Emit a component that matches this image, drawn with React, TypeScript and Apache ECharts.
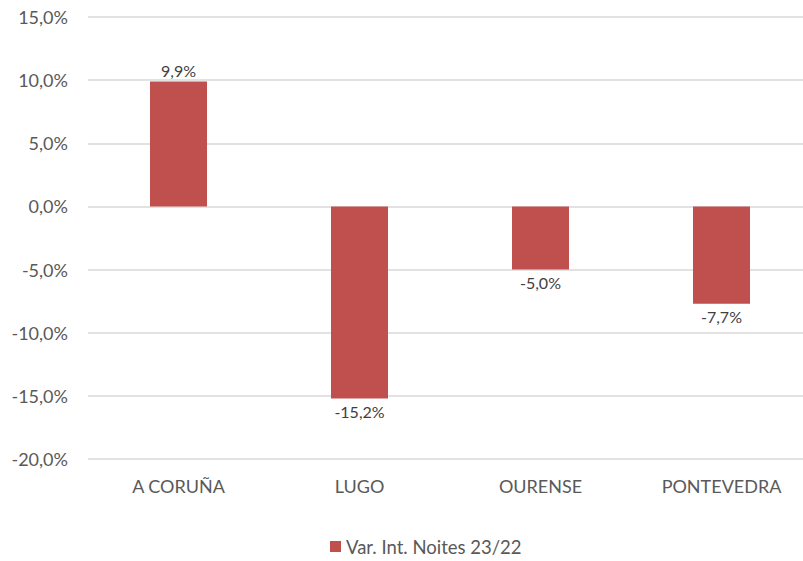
import React, { useEffect, useRef } from "react";
import * as echarts from "echarts";

const categories = ["A CORUÑA", "LUGO", "OURENSE", "PONTEVEDRA"];
const values = [9.9, -15.2, -5.0, -7.7];
const seriesName = "Var. Int. Noites 23/22";
const yMin = -20;
const yMax = 15;
const yStep = 5;

const fmt = (v: number) => v.toFixed(1).replace(".", ",") + "%";

export default function App() {
  const ref = useRef<HTMLDivElement>(null);
  useEffect(() => {
    document.body.style.margin = "0";
    const chart = echarts.init(ref.current!, null, { renderer: "svg" });
    const font = "Lato, 'Open Sans', sans-serif";
    chart.setOption({
      animation: false,
      textStyle: { fontFamily: font },
      grid: { left: 88, right: 0, top: 17, bottom: 102, containLabel: false },
      legend: {
        bottom: 0,
        left: 325,
        itemWidth: 11,
        itemHeight: 11,
        itemGap: 6,
        icon: "rect",
        textStyle: { color: "#595959", fontSize: 18.5, fontFamily: font },
        data: [seriesName],
      },
      xAxis: {
        type: "category",
        data: categories,
        axisLine: { show: false },
        axisTick: { show: false },
        axisLabel: { color: "#595959", fontSize: 18, margin: 18, fontFamily: font },
      },
      yAxis: {
        type: "value",
        min: yMin,
        max: yMax,
        interval: yStep,
        axisLine: { show: false },
        axisTick: { show: false },
        splitLine: { lineStyle: { color: "#D9D9D9", width: 1.5 } },
        axisLabel: {
          color: "#595959",
          fontSize: 18,
          margin: 20,
          fontFamily: font,
          formatter: (v: number) => fmt(v),
        },
      },
      series: [
        {
          name: seriesName,
          type: "bar",
          barWidth: 57,
          itemStyle: { color: "#C0504D" },
          data: values.map((v) => ({
            value: v,
            label: { position: v >= 0 ? "top" : "bottom", distance: v >= 0 ? 3 : 5 },
          })),
          label: {
            show: true,
            color: "#404040",
            fontSize: 16,
            fontFamily: font,
            formatter: (p: any) => fmt(p.value),
          },
        },
      ],
    });
    return () => chart.dispose();
  }, []);
  return (
    <div style={{ width: 803, height: 561, overflow: "hidden", position: "relative" }}>
      <div ref={ref} style={{ position: "absolute", left: 0, top: 0, width: 812, height: 561 }} />
    </div>
  );
}
